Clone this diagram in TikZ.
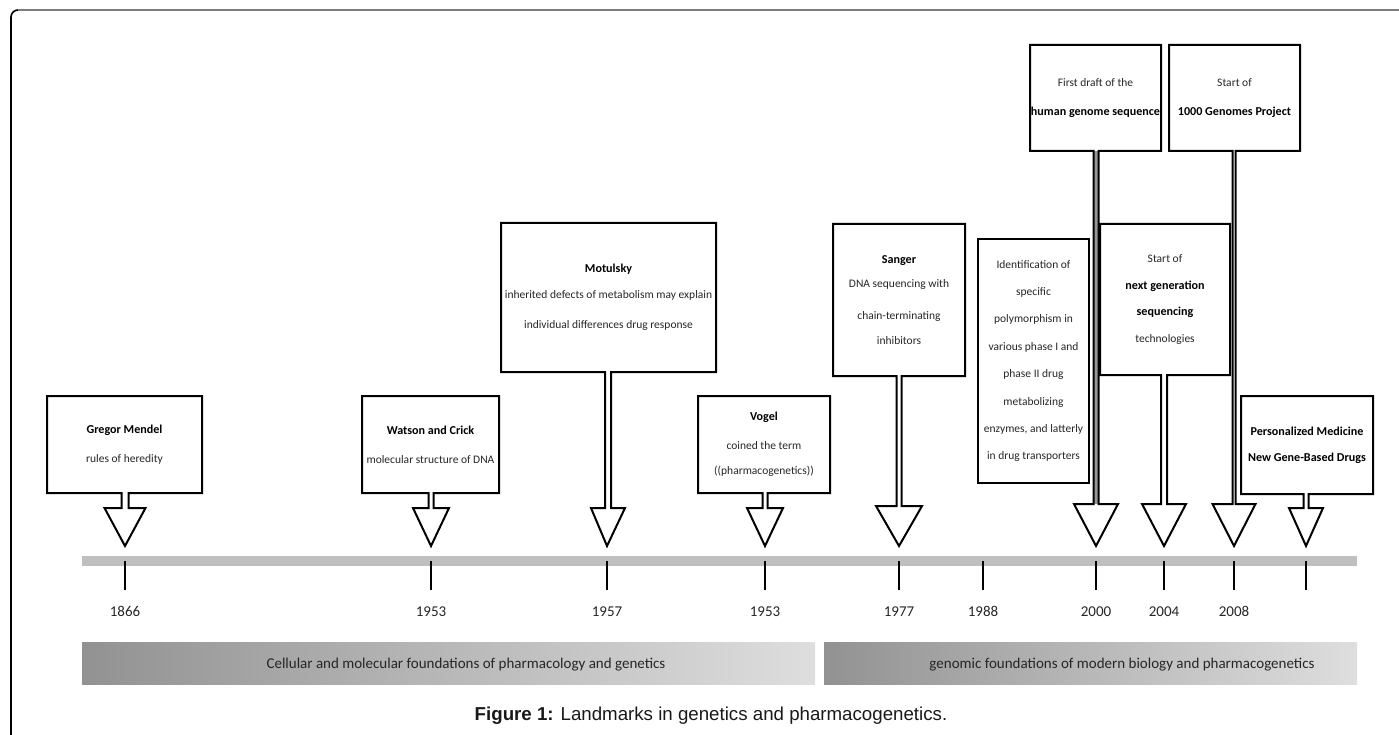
\documentclass[tikz,border=0pt]{standalone}
\usepackage{fontspec}
\setmainfont[Numbers=Lining]{Carlito}
\newfontfamily\capfont{Liberation Sans}
\usetikzlibrary{calc}
\definecolor{bargray}{RGB}{191,191,191}
\definecolor{framegray}{RGB}{125,125,125}
\definecolor{bandL}{RGB}{146,146,146}
\definecolor{bandM}{RGB}{168,168,168}
\definecolor{bandR}{RGB}{222,222,222}
\definecolor{txt}{RGB}{38,38,38}
\definecolor{stemgray}{RGB}{150,150,150}
\newcommand\bt[1]{{\fontsize{12.1}{12}\selectfont\bfseries\color{black}#1}}
\newcommand\evfont[1]{\fontsize{11.5}{#1}\selectfont}
% #1 box, #2 tick x, #3 stem half width, #4 triangle half width, #5 triangle top y, #6 apex coordinate
\newcommand\callout[6]{%
  \coordinate (#1-sl) at ({#2-#3},#5);
  \coordinate (#1-sr) at ({#2+#3},#5);
  \coordinate (#1-tl) at ({#2-#4},#5);
  \coordinate (#1-tr) at ({#2+#4},#5);
  \draw[calloutline] (#1.south west) -- (#1.north west) -- (#1.north east) -- (#1.south east)
    -- (#1-sr |- #1.south) -- (#1-sr) -- (#1-tr) -- (#6) -- (#1-tl) -- (#1-sl)
    -- (#1-sl |- #1.south) -- cycle;
}
\begin{document}
\begin{tikzpicture}[x=1pt,y=-1pt,
  evbox/.style={inner sep=0pt, outer sep=0pt, align=center, text=txt},
  calloutline/.style={draw=black, line width=2pt, line join=miter},
  tickline/.style={draw=black, line width=2pt},
  yearlabel/.style={inner sep=0pt, anchor=base, text=txt, font=\fontsize{15}{15}\selectfont},
  bandbox/.style={inner sep=0pt, outer sep=0pt, minimum height=42pt, left color=bandL, middle color=bandM, right color=bandR, draw=none},
  bandtext/.style={inner sep=0pt, anchor=base, text=txt, font=\fontsize{15}{15}\selectfont}]
\useasboundingbox (0,0) rectangle (1399,735);

% frame
\draw[black, line width=1.6pt, rounded corners=7pt] (11,735) -- (11,10) -- (1399,10);
\draw[framegray, line width=1.6pt] (18,10) -- (1399,10);

% timeline bar
\fill[bargray] (82,556) rectangle (1357,566);

% ticks and years
\foreach \x/\yr/\nm in {125/1866/a,431/1953/b,607/1957/c,765/1953/d,899/1977/e,983/1988/f,1096/2000/g,1164/2004/h,1234/2008/i}{
  \draw[tickline] (\x,561) -- (\x,590);
  \node[yearlabel] (yr\nm) at (\x,616) {\yr};
}
\draw[tickline] (1306,561) -- (1306,590);

% apex coordinates
\coordinate (pa) at (125,546);
\coordinate (pb) at (431,546);
\coordinate (pc) at (607,546);
\coordinate (pd) at (765,546);
\coordinate (pe) at (899,546);
\coordinate (pg) at (1096,546);
\coordinate (ph) at (1164,546);
\coordinate (pi) at (1234,546);
\coordinate (pj) at (1306,546);

% event boxes
\node[evbox, minimum width=155pt, minimum height=97pt, font=\evfont{29}] (mendel) at (124.5,444.5)
  {\bt{Gregor Mendel}\\rules of heredity};
\node[evbox, minimum width=137pt, minimum height=97pt, font=\evfont{29}] (watson) at (430.5,444.5)
  {\bt{Watson and Crick}\\molecular structure of DNA};
\node[evbox, minimum width=215pt, minimum height=149pt, font=\evfont{26}] (motulsky) at (608.5,297.5)
  {\bt{Motulsky}\\inherited defects of metabolism may explain\\[4pt]individual differences drug response};
\node[evbox, minimum width=132pt, minimum height=97pt, font=\evfont{25}] (vogel) at (764,444.5)
  {\bt{Vogel}\\[4pt]coined the term\\((pharmacogenetics))};
\node[evbox, minimum width=132pt, minimum height=152pt, font=\evfont{24.5}] (sanger) at (899,300)
  {\bt{Sanger}\\DNA sequencing with\\[7.5pt]chain-terminating\\inhibitors};
\node[evbox, minimum width=111pt, minimum height=244pt, font=\evfont{27.4}] (ident) at (1033.5,361)
  {Identification of\\specific\\polymorphism in\\various phase I and\\phase II drug\\metabolizing\\enzymes, and latterly\\in drug transporters};
\node[evbox, minimum width=131pt, minimum height=106pt, font=\evfont{29}] (draft) at (1095.5,98)
  {First draft of the\\\bt{human genome sequence}};
\node[evbox, minimum width=131pt, minimum height=106pt, font=\evfont{29}] (kgp) at (1234.5,98)
  {Start of\\\bt{1000 Genomes Project}};
\node[evbox, minimum width=130pt, minimum height=151pt, font=\evfont{26.7}] (ngs) at (1165,299.5)
  {Start of\\\bt{next generation}\\\bt{sequencing}\\technologies};
\node[evbox, minimum width=132pt, minimum height=98pt, font=\evfont{26}] (pers) at (1307,445)
  {\bt{Personalized Medicine}\\\bt{New Gene-Based Drugs}};

% ident box (no arrow)
\draw[calloutline] (ident.south west) rectangle (ident.north east);

% callouts
\callout{mendel}{125}{3.5}{20.5}{508}{pa}
\callout{watson}{431}{2.5}{18}{508}{pb}
\callout{motulsky}{608}{3}{17}{508}{pc}
\callout{vogel}{765}{2.5}{18}{508}{pd}
\callout{sanger}{899}{2.5}{23}{506}{pe}
\fill[stemgray] (1094,151) rectangle (1098,504);
\callout{draft}{1096}{2.5}{22}{504}{pg}
\callout{ngs}{1164}{3}{22}{504}{ph}
\callout{kgp}{1234}{1.5}{21.5}{504}{pi}
\callout{pers}{1306}{2.5}{17}{508}{pj}

% bands
\node[bandbox, minimum width=733pt] (band1) at (448.5,663) {};
\node[bandtext] (band1text) at (466,668) {Cellular and molecular foundations of pharmacology and genetics};
\node[bandbox, minimum width=533pt] (band2) at (1090.5,663) {};
\node[bandtext] (band2text) at (1122,668) {genomic foundations of modern biology and pharmacogenetics};

% caption
\node[inner sep=0pt, anchor=base, text=black!90, font={\capfont\fontsize{18.7}{22}\selectfont}] (caption) at (711,720)
  {\textbf{Figure 1:} Landmarks in genetics and pharmacogenetics.};
\end{tikzpicture}
\end{document}
